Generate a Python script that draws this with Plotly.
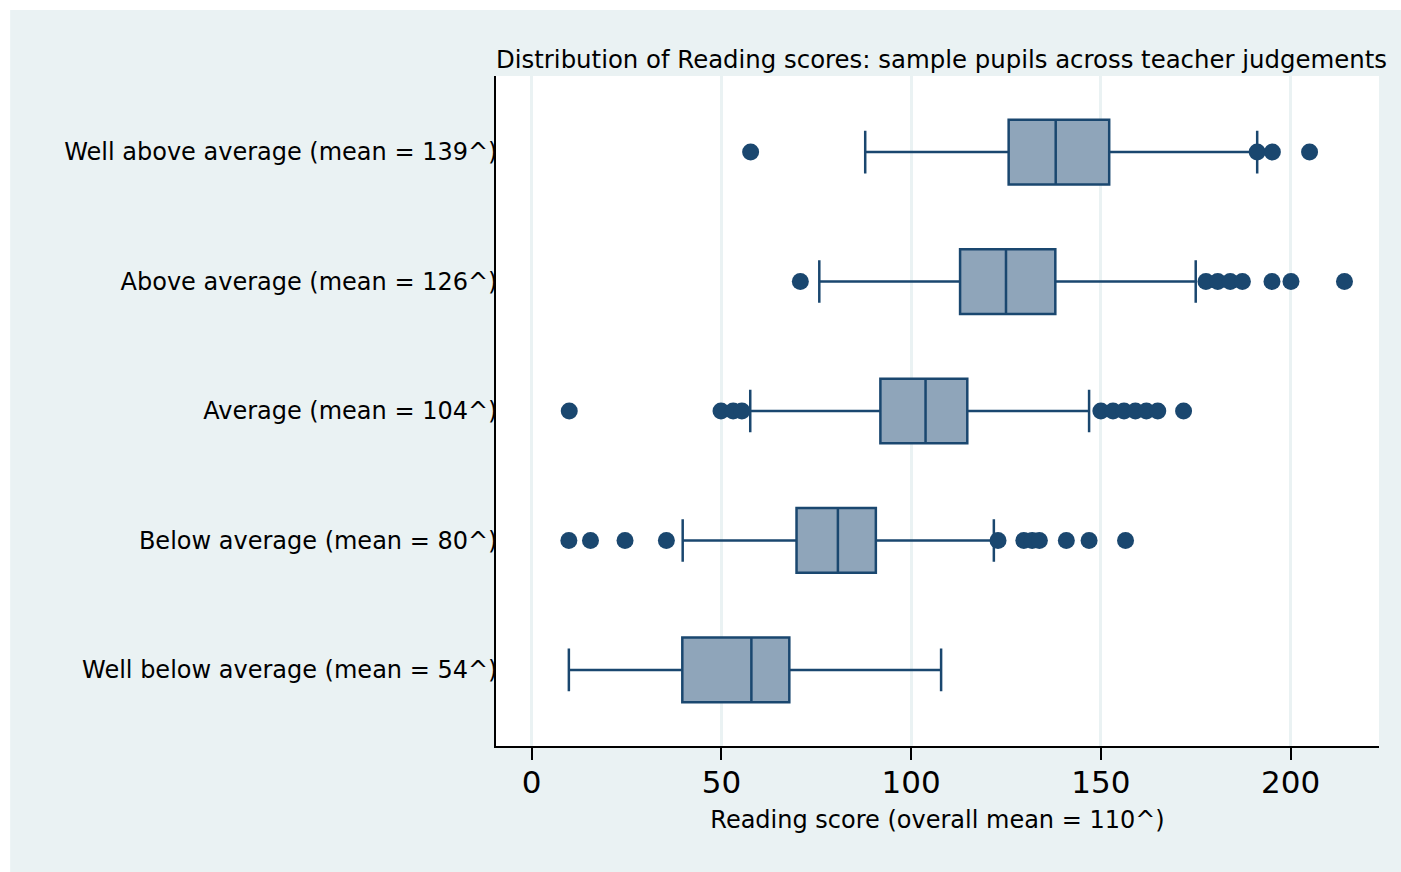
import plotly.graph_objects as go

# Teacher-judgement groups, bottom to top on the y axis
groups = [
    "Well below average (mean = 54^)",
    "Below average (mean = 80^)",
    "Average (mean = 104^)",
    "Above average (mean = 126^)",
    "Well above average (mean = 139^)",
]

# Box summary statistics per group (Reading score)
q1 = [39.7, 69.8, 91.9, 112.9, 125.7]
median = [57.9, 80.7, 103.8, 125.0, 138.1]
q3 = [67.9, 90.7, 114.8, 138.0, 152.2]
lower_whisker = [9.8, 39.8, 57.6, 75.8, 87.9]
upper_whisker = [107.9, 121.8, 146.9, 175.0, 191.2]

# Outside values per group
outliers = [
    [],
    [9.8, 15.5, 24.6, 35.5, 122.9, 129.7, 131.9, 133.8, 140.9, 146.9, 156.5],
    [9.9, 49.9, 53.1, 55.4, 150.0, 153.2, 156.1, 159.1, 162.0, 165.0, 171.8],
    [70.8, 177.7, 180.8, 184.1, 187.3, 195.1, 200.1, 214.2],
    [57.7, 191.2, 195.2, 205.0],
]

x_ticks = [0, 50, 100, 150, 200]

NAVY = "#1A476F"
BOX_FILL = "#8FA5BA"
PANEL = "#EAF2F3"
FONT = "DejaVu Sans, Verdana, sans-serif"

fig = go.Figure()

for i, name in enumerate(groups):
    fig.add_trace(go.Box(
        y=[i],
        q1=[q1[i]],
        median=[median[i]],
        q3=[q3[i]],
        lowerfence=[lower_whisker[i]],
        upperfence=[upper_whisker[i]],
        orientation="h",
        width=0.5,
        whiskerwidth=0.66,
        fillcolor=BOX_FILL,
        line=dict(color=NAVY, width=2.5),
        boxpoints=False,
        hoverinfo="skip",
        showlegend=False,
        name=name,
    ))
    if outliers[i]:
        fig.add_trace(go.Scatter(
            x=outliers[i],
            y=[i] * len(outliers[i]),
            mode="markers",
            marker=dict(color=NAVY, size=17, symbol="circle"),
            hoverinfo="skip",
            showlegend=False,
        ))

# White margin strips along the top and left edges of the page
fig.add_shape(type="rect", xref="paper", yref="paper",
              x0=-1, x1=2, y0=(746 - 10) / 670, y1=2,
              fillcolor="white", line_width=0, layer="below")
fig.add_shape(type="rect", xref="paper", yref="paper",
              x0=-1, x1=(10 - 496) / 883.3, y0=-1, y1=2,
              fillcolor="white", line_width=0, layer="below")

fig.update_layout(
    width=1401,
    height=872,
    margin=dict(l=496, r=22, t=76, b=126),
    paper_bgcolor=PANEL,
    plot_bgcolor="white",
    font=dict(family=FONT, color="black"),
    title=dict(
        text="Distribution of Reading scores: sample pupils across teacher judgements",
        x=496 / 1401, xanchor="left", xref="container",
        y=1 - 59 / 872, yanchor="middle", yref="container",
        font=dict(size=24.4, family=FONT, color="black"),
        automargin=False,
    ),
    xaxis=dict(
        range=[-9.4, 223.3],
        tickvals=x_ticks,
        ticktext=[str(v) for v in x_ticks],
        tickfont=dict(size=31, family=FONT, color="black"),
        ticks="outside", ticklen=12, tickwidth=1.5, tickcolor="black",
        ticklabelstandoff=-4,
        showline=True, linecolor="black", linewidth=1.5,
        showgrid=True, gridcolor=PANEL, gridwidth=3,
        zeroline=False,
        title=dict(text="Reading score (overall mean = 110^)",
                   font=dict(size=24, family=FONT, color="black"),
                   standoff=12),
        automargin=False,
    ),
    yaxis=dict(
        range=[-0.587, 4.587],
        tickvals=list(range(len(groups))),
        ticktext=groups,
        tickfont=dict(size=24, family=FONT, color="black"),
        ticks="",
        ticklabelstandoff=-8,
        showline=True, linecolor="black", linewidth=1.5,
        showgrid=False, zeroline=False,
        automargin=False,
    ),
)

fig.write_html("out.html")
